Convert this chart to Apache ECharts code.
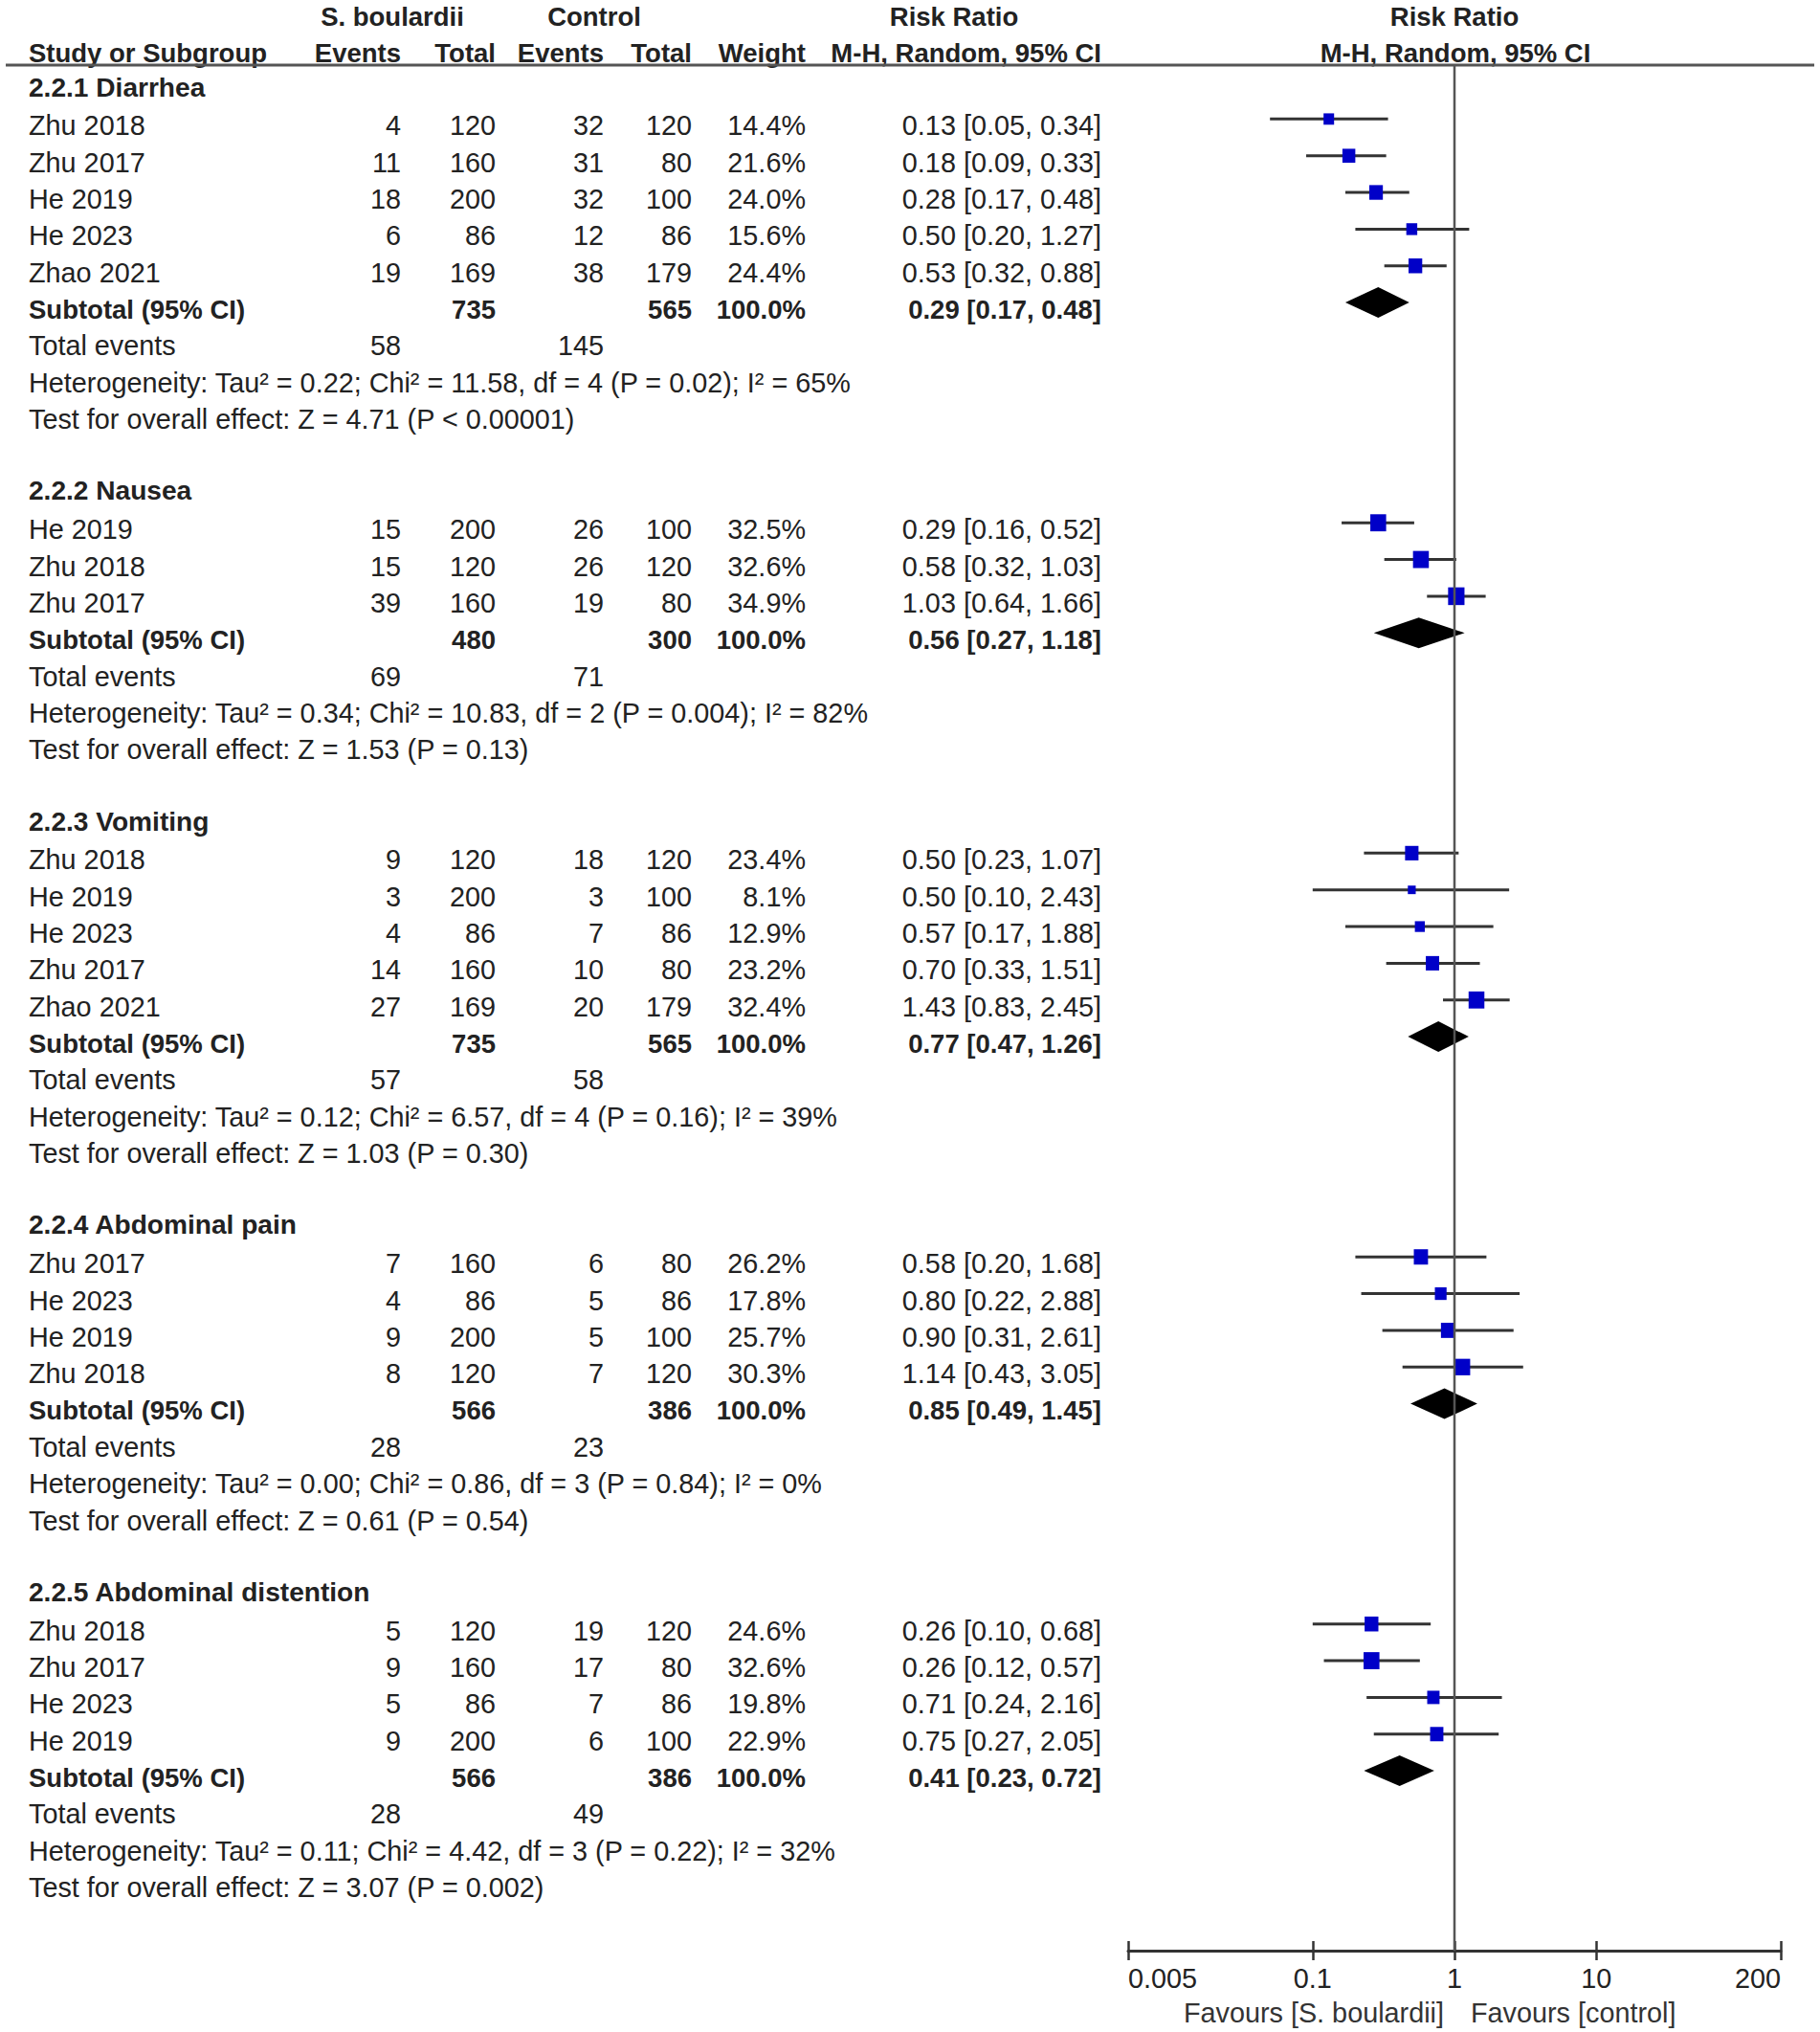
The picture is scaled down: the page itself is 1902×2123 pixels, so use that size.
<!DOCTYPE html>
<html>
<head>
<meta charset="utf-8">
<title>Forest plot</title>
<script src="https://cdn.jsdelivr.net/npm/echarts@6.0.0/dist/echarts.min.js"></script>
<style>
  html, body { margin: 0; padding: 0; background: #fff; }
  #main { width: 1902px; height: 2123px; }
</style>
</head>
<body>
<div id="main"></div>
<script>
// ---- data ----
var subgroups = ['2.2.1 Diarrhea', '2.2.2 Nausea', '2.2.3 Vomiting', '2.2.4 Abdominal pain', '2.2.5 Abdominal distention'];

var studyNames = [
    ['Zhu 2018', 'Zhu 2017', 'He 2019', 'He 2023', 'Zhao 2021'],
    ['He 2019', 'Zhu 2018', 'Zhu 2017'],
    ['Zhu 2018', 'He 2019', 'He 2023', 'Zhu 2017', 'Zhao 2021'],
    ['Zhu 2017', 'He 2023', 'He 2019', 'Zhu 2018'],
    ['Zhu 2018', 'Zhu 2017', 'He 2023', 'He 2019']
];
var sbEvents  = [[4, 11, 18, 6, 19], [15, 15, 39], [9, 3, 4, 14, 27], [7, 4, 9, 8], [5, 9, 5, 9]];
var sbTotal   = [[120, 160, 200, 86, 169], [200, 120, 160], [120, 200, 86, 160, 169], [160, 86, 200, 120], [120, 160, 86, 200]];
var ctlEvents = [[32, 31, 32, 12, 38], [26, 26, 19], [18, 3, 7, 10, 20], [6, 5, 5, 7], [19, 17, 7, 6]];
var ctlTotal  = [[120, 80, 100, 86, 179], [100, 120, 80], [120, 100, 86, 80, 179], [80, 86, 100, 120], [120, 80, 86, 100]];
var weights   = [[14.4, 21.6, 24.0, 15.6, 24.4], [32.5, 32.6, 34.9], [23.4, 8.1, 12.9, 23.2, 32.4], [26.2, 17.8, 25.7, 30.3], [24.6, 32.6, 19.8, 22.9]];
var rr        = [[0.13, 0.18, 0.28, 0.50, 0.53], [0.29, 0.58, 1.03], [0.50, 0.50, 0.57, 0.70, 1.43], [0.58, 0.80, 0.90, 1.14], [0.26, 0.26, 0.71, 0.75]];
var rrLow     = [[0.05, 0.09, 0.17, 0.20, 0.32], [0.16, 0.32, 0.64], [0.23, 0.10, 0.17, 0.33, 0.83], [0.20, 0.22, 0.31, 0.43], [0.10, 0.12, 0.24, 0.27]];
var rrHigh    = [[0.34, 0.33, 0.48, 1.27, 0.88], [0.52, 1.03, 1.66], [1.07, 2.43, 1.88, 1.51, 2.45], [1.68, 2.88, 2.61, 3.05], [0.68, 0.57, 2.16, 2.05]];

var subSbTotal  = [735, 480, 735, 566, 566];
var subCtlTotal = [565, 300, 565, 386, 386];
var subRR   = [0.29, 0.56, 0.77, 0.85, 0.41];
var subLow  = [0.17, 0.27, 0.47, 0.49, 0.23];
var subHigh = [0.48, 1.18, 1.26, 1.45, 0.72];
var totSbEvents  = [58, 69, 57, 28, 28];
var totCtlEvents = [145, 71, 58, 23, 49];

var hetText = [
    'Heterogeneity: Tau\u00b2 = 0.22; Chi\u00b2 = 11.58, df = 4 (P = 0.02); I\u00b2 = 65%',
    'Heterogeneity: Tau\u00b2 = 0.34; Chi\u00b2 = 10.83, df = 2 (P = 0.004); I\u00b2 = 82%',
    'Heterogeneity: Tau\u00b2 = 0.12; Chi\u00b2 = 6.57, df = 4 (P = 0.16); I\u00b2 = 39%',
    'Heterogeneity: Tau\u00b2 = 0.00; Chi\u00b2 = 0.86, df = 3 (P = 0.84); I\u00b2 = 0%',
    'Heterogeneity: Tau\u00b2 = 0.11; Chi\u00b2 = 4.42, df = 3 (P = 0.22); I\u00b2 = 32%'
];
var testText = [
    'Test for overall effect: Z = 4.71 (P < 0.00001)',
    'Test for overall effect: Z = 1.53 (P = 0.13)',
    'Test for overall effect: Z = 1.03 (P = 0.30)',
    'Test for overall effect: Z = 0.61 (P = 0.54)',
    'Test for overall effect: Z = 3.07 (P = 0.002)'
];

var tickValues = [0.005, 0.1, 1, 10, 200];
var tickLabels = ['0.005', '0.1', '1', '10', '200'];

// ---- layout ----
var FONT = '"Liberation Sans", Arial, sans-serif';
var FS = 28.8, FS_BOLD = 27.5;
var TXT = '#222';
var GRID = {left: 1179, top: 68, width: 682, height: 1970};
var Y_MIN = -0.4694, Y_MAX = 50.899;
var X_MIN = Math.log10(0.005), X_MAX = Math.log10(200);
var COL = {name: 30, sbEv: 419, sbTot: 518, ctlEv: 631, ctlTot: 723, weight: 842, rr: 1151};

function rowPx(i) {
    return GRID.top + (i - Y_MIN) / (Y_MAX - Y_MIN) * GRID.height;
}

function txt(x, y, str, align, bold, color, size) {
    return {
        type: 'text', x: x, y: y, silent: true,
        style: {
            text: String(str), fill: color || TXT,
            fontSize: size || (bold ? FS_BOLD : FS), fontFamily: FONT, fontWeight: bold ? 'bold' : 'normal',
            align: align, verticalAlign: 'middle',
            textAlign: align, textVerticalAlign: 'middle'
        }
    };
}

function ciStr(a, b, c) {
    return a.toFixed(2) + ' [' + b.toFixed(2) + ', ' + c.toFixed(2) + ']';
}

var graphics = [];
var ciData = [], squareData = [], diamondData = [];

// column headers
graphics.push(txt(410, 17, 'S. boulardii', 'center', true));
graphics.push(txt(621, 17, 'Control', 'center', true));
graphics.push(txt(997, 17, 'Risk Ratio', 'center', true));
graphics.push(txt(1520, 17, 'Risk Ratio', 'center', true));
graphics.push(txt(COL.name, 55, 'Study or Subgroup', 'left', true));
graphics.push(txt(COL.sbEv, 55, 'Events', 'right', true));
graphics.push(txt(COL.sbTot, 55, 'Total', 'right', true));
graphics.push(txt(COL.ctlEv, 55, 'Events', 'right', true));
graphics.push(txt(COL.ctlTot, 55, 'Total', 'right', true));
graphics.push(txt(COL.weight, 55, 'Weight', 'right', true));
graphics.push(txt(COL.rr, 55, 'M-H, Random, 95% CI', 'right', true));
graphics.push(txt(1521, 55, 'M-H, Random, 95% CI', 'center', true));
graphics.push({
    type: 'line', silent: true,
    shape: {x1: 6, y1: GRID.top, x2: 1896, y2: GRID.top},
    style: {stroke: '#555', lineWidth: 3}
});

var row = 0;
subgroups.forEach(function (g, gi) {
    var ty = function (r) { return rowPx(r) + 7; };
    graphics.push(txt(COL.name, ty(row) - 2, g, 'left', true, null, 28.1));
    studyNames[gi].forEach(function (name, k) {
        row++;
        var y = ty(row);
        graphics.push(txt(COL.name, y, name, 'left'));
        graphics.push(txt(COL.sbEv, y, sbEvents[gi][k], 'right'));
        graphics.push(txt(COL.sbTot, y, sbTotal[gi][k], 'right'));
        graphics.push(txt(COL.ctlEv, y, ctlEvents[gi][k], 'right'));
        graphics.push(txt(COL.ctlTot, y, ctlTotal[gi][k], 'right'));
        graphics.push(txt(COL.weight, y, weights[gi][k].toFixed(1) + '%', 'right'));
        graphics.push(txt(COL.rr, y, ciStr(rr[gi][k], rrLow[gi][k], rrHigh[gi][k]), 'right'));
        ciData.push([row, Math.log10(rrLow[gi][k]), Math.log10(rrHigh[gi][k])]);
        squareData.push([Math.log10(rr[gi][k]), row, weights[gi][k]]);
    });
    row++;
    var ys = ty(row);
    graphics.push(txt(COL.name, ys, 'Subtotal (95% CI)', 'left', true));
    graphics.push(txt(COL.sbTot, ys, subSbTotal[gi], 'right', true));
    graphics.push(txt(COL.ctlTot, ys, subCtlTotal[gi], 'right', true));
    graphics.push(txt(COL.weight, ys, '100.0%', 'right', true));
    graphics.push(txt(COL.rr, ys, ciStr(subRR[gi], subLow[gi], subHigh[gi]), 'right', true));
    diamondData.push([row, Math.log10(subRR[gi]), Math.log10(subLow[gi]), Math.log10(subHigh[gi])]);
    row++;
    graphics.push(txt(COL.name, ty(row), 'Total events', 'left'));
    graphics.push(txt(COL.sbEv, ty(row), totSbEvents[gi], 'right'));
    graphics.push(txt(COL.ctlEv, ty(row), totCtlEvents[gi], 'right'));
    row++;
    graphics.push(txt(COL.name, ty(row), hetText[gi], 'left'));
    row++;
    graphics.push(txt(COL.name, ty(row), testText[gi], 'left'));
    row += 2;
});

var xOne = GRID.left + (0 - X_MIN) / (X_MAX - X_MIN) * GRID.width;
graphics.push(txt(xOne - 11, 2103, 'Favours [S. boulardii]', 'right', false, '#333'));
graphics.push(txt(xOne + 17, 2103, 'Favours [control]', 'left', false, '#333'));

var tickLogs = tickValues.map(function (v) { return Math.log10(v); });

function tickLabel(v) {
    for (var i = 0; i < tickLogs.length; i++) {
        if (Math.abs(tickLogs[i] - v) < 1e-6) return tickLabels[i];
    }
    return '';
}

var chart = echarts.init(document.getElementById('main'), null, {renderer: 'svg'});

chart.setOption({
    backgroundColor: '#fff',
    animation: false,
    grid: GRID,
    xAxis: [{
        type: 'value', min: X_MIN, max: X_MAX, position: 'bottom',
        axisLine: {show: true, onZero: false, lineStyle: {color: '#333', width: 3}},
        axisTick: {show: true, customValues: tickLogs, length: 10, lineStyle: {color: '#333', width: 2.5}},
        axisLabel: {
            customValues: tickLogs, formatter: tickLabel, margin: 14,
            fontSize: FS, fontFamily: FONT, color: TXT,
            alignMinLabel: 'left', alignMaxLabel: 'right'
        },
        splitLine: {show: false}
    }, {
        type: 'value', min: X_MIN, max: X_MAX, position: 'bottom', offset: 0,
        axisLine: {show: false, onZero: false},
        axisTick: {show: true, inside: true, customValues: tickLogs, length: 10, lineStyle: {color: '#333', width: 2.5}},
        axisLabel: {show: false},
        splitLine: {show: false}
    }],
    yAxis: {
        type: 'value', min: Y_MIN, max: Y_MAX, inverse: true, show: false
    },
    series: [{
        // line of no effect, RR = 1
        type: 'line', symbol: 'none', silent: true,
        data: [[0, Y_MIN], [0, Y_MAX]],
        lineStyle: {color: '#555', width: 2.5}
    }, {
        type: 'custom', silent: true, clip: false,
        encode: {x: [1, 2], y: 0},
        data: ciData,
        renderItem: function (params, api) {
            var p1 = api.coord([api.value(1), api.value(0)]);
            var p2 = api.coord([api.value(2), api.value(0)]);
            return {
                type: 'line',
                shape: {x1: p1[0], y1: p1[1], x2: p2[0], y2: p2[1]},
                style: {stroke: '#333', lineWidth: 3}
            };
        }
    }, {
        type: 'scatter', silent: true,
        symbol: 'rect',
        data: squareData,
        symbolSize: function (val) {
            var s = 2.9 * Math.sqrt(val[2]);
            return [s, s * 1.08];
        },
        itemStyle: {color: '#0000c8', opacity: 1}
    }, {
        type: 'custom', silent: true, clip: false,
        encode: {x: [1, 2, 3], y: 0},
        data: diamondData,
        renderItem: function (params, api) {
            var r = api.value(0);
            var c = api.coord([api.value(1), r]);
            var lo = api.coord([api.value(2), r]);
            var hi = api.coord([api.value(3), r]);
            var h = 16;
            return {
                type: 'polygon',
                shape: {points: [[lo[0], c[1]], [c[0], c[1] - h], [hi[0], c[1]], [c[0], c[1] + h]]},
                style: {fill: '#000'}
            };
        }
    }],
    graphic: graphics
});
</script>
</body>
</html>
